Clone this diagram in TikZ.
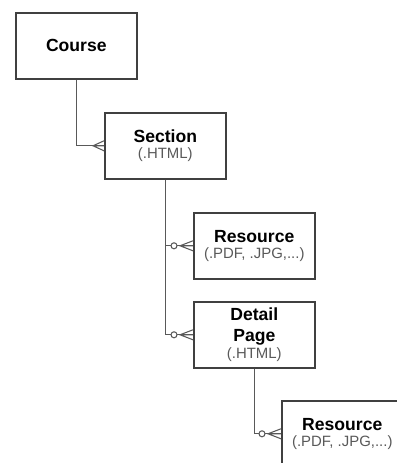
\documentclass[tikz,border=0pt]{standalone}
\usepackage{fontspec}
\setmainfont{Liberation Sans}
\usepackage{xcolor}
\usepackage{tikz}
\usetikzlibrary{positioning,shadows}

\newcommand{\ttl}{\fontsize{10}{11.5}\selectfont\bfseries}
\newcommand{\subl}{\fontsize{8.5}{9.5}\selectfont\color{black!65}}

\begin{document}
\begin{tikzpicture}[
  x=0.02cm, y=-0.02cm,
  box/.style={draw=black!75,line width=0.9pt,fill=white,minimum width=2.42cm,minimum height=1.32cm,
    inner sep=0pt,align=center,anchor=north west,
    drop shadow={opacity=0.25,shadow xshift=0.8pt,shadow yshift=-0.8pt}},
  link/.style={draw=black!65,line width=0.6pt},
  many/.pic={\draw[link] (0,0) -- (-11,0) (0,-5) -- (-11,0) -- (0,5);},
  zeromany/.pic={\draw[link] (0,0) -- (-13,0) (0,-5) -- (-13,0) -- (0,5);
    \draw[link,fill=white] (-19,0) circle (3);},
]
\useasboundingbox (0,0) rectangle (396,463);

\node[box] (course)  at (15,12)   {\ttl Course};
\node[box] (section) at (104,112) {{\ttl Section}\\[-3pt]{\subl (.HTML)}};
\node[box] (res)     at (193,212) {{\ttl Resource}\\[-3pt]{\subl (.PDF, .JPG,...)}};
\node[box] (detail)  at (193,301) {{\ttl Detail}\\{\ttl Page}\\[-2pt]{\subl (.HTML)}};
\node[box] (detres)  at (281,400) {{\ttl Resource}\\[-3pt]{\subl (.PDF, .JPG,...)}};

% connectors
\draw[link] (course.south) |- (section.west);
\draw[link] (section.south) |- (res.west);
\draw[link] (section.south) |- (detail.west);
\draw[link] (detail.south) |- (detres.west);

% ends
\pic at (section.west) {many};
\pic at (res.west) {zeromany};
\pic at (detail.west) {zeromany};
\pic at (detres.west) {zeromany};
\end{tikzpicture}
\end{document}
